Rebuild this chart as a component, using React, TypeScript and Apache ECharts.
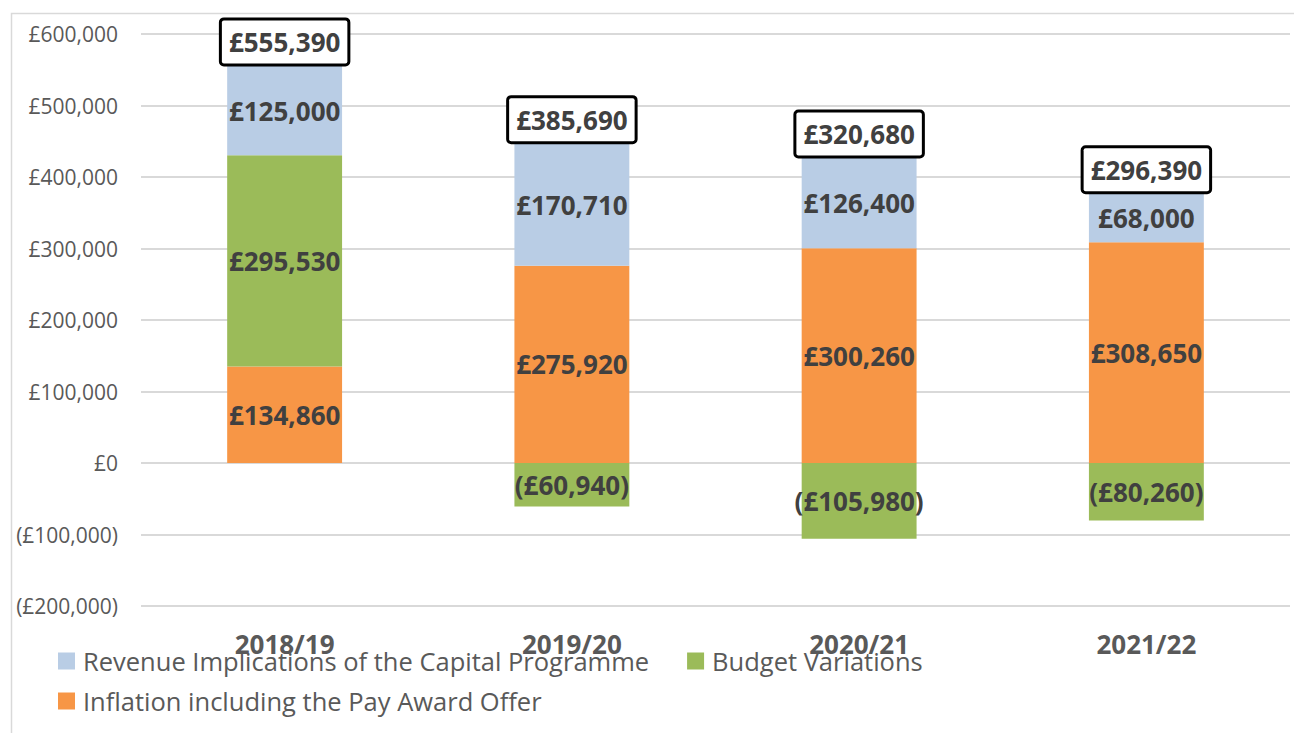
import React, { useEffect, useRef } from "react";
import * as echarts from "echarts";

const categories = ["2018/19", "2019/20", "2020/21", "2021/22"];
const inflation = [134860, 275920, 300260, 308650];
const budgetVariations = [295530, -60940, -105980, -80260];
const revenueCapital = [125000, 170710, 126400, 68000];

const seriesNames = {
  revenue: "Revenue Implications of the Capital Programme",
  budget: "Budget Variations",
  inflation: "Inflation including the Pay Award Offer",
};

const yMin = -200000;
const yMax = 600000;
const yStep = 100000;

const FONT = "'Open Sans', 'Noto Sans', sans-serif";

function money(v: number): string {
  const s = "£" + Math.abs(v).toLocaleString("en-GB");
  return v < 0 ? "(" + s + ")" : s;
}

const allSeries = [inflation, budgetVariations, revenueCapital];
const positiveTops = categories.map((_, i) =>
  allSeries.reduce((s, a) => s + Math.max(0, a[i]), 0)
);
const totals = categories.map((_, i) => allSeries.reduce((s, a) => s + a[i], 0));

export default function App() {
  const ref = useRef<HTMLDivElement>(null);
  useEffect(() => {
    if (!ref.current) return;
    const chart = echarts.init(ref.current, undefined, { renderer: "svg" });
    const barLabel = {
      show: true,
      position: "inside" as const,
      fontFamily: FONT,
      fontSize: 26,
      fontWeight: "bold" as const,
      color: "#404040",
      formatter: (p: any) => money(p.value),
    };
    const legendText = {
      fontFamily: FONT,
      fontSize: 25.5,
      color: "#595959",
      padding: [0, 0, 0, 3],
    };
    chart.setOption({
      animation: false,
      backgroundColor: "#ffffff",
      textStyle: { fontFamily: FONT },
      graphic: [
        {
          type: "rect",
          left: 9,
          top: 11,
          shape: { x: 0, y: 0, width: 2000, height: 2000 },
          style: { fill: "none", stroke: "#d9d9d9", lineWidth: 1.5 },
          silent: true,
          z: -10,
        },
      ],
      grid: { left: 141, right: 4, top: 34, bottom: 127, containLabel: false },
      legend: [
        {
          data: [seriesNames.revenue, seriesNames.budget],
          left: 58,
          top: 648,
          padding: 0,
          orient: "horizontal",
          itemWidth: 17,
          itemHeight: 17,
          itemGap: 38,
          icon: "rect",
          textStyle: legendText,
        },
        {
          data: [seriesNames.inflation],
          left: 58,
          top: 688,
          padding: 0,
          orient: "horizontal",
          itemWidth: 17,
          itemHeight: 17,
          icon: "rect",
          textStyle: legendText,
        },
      ],
      xAxis: {
        type: "category",
        data: categories,
        axisLine: { show: false, onZero: false },
        axisTick: { show: false },
        axisLabel: {
          fontFamily: FONT,
          fontSize: 26,
          fontWeight: "bold",
          color: "#595959",
          margin: 25,
        },
      },
      yAxis: {
        type: "value",
        min: yMin,
        max: yMax,
        interval: yStep,
        axisLine: { show: false },
        axisTick: { show: false },
        splitLine: { lineStyle: { color: "#d9d9d9", width: 2 } },
        axisLabel: {
          fontFamily: FONT,
          fontSize: 21,
          color: "#595959",
          margin: 23,
          formatter: (v: number) => money(v),
        },
      },
      series: [
        {
          name: seriesNames.inflation,
          type: "bar",
          stack: "total",
          data: inflation,
          barWidth: "40%",
          itemStyle: { color: "#F79646" },
          label: barLabel,
        },
        {
          name: seriesNames.budget,
          type: "bar",
          stack: "total",
          data: budgetVariations,
          itemStyle: { color: "#9BBB59" },
          label: barLabel,
        },
        {
          name: seriesNames.revenue,
          type: "bar",
          stack: "total",
          data: revenueCapital,
          itemStyle: { color: "#B9CDE5" },
          label: barLabel,
        },
        {
          name: "Total",
          type: "scatter",
          data: positiveTops,
          symbolSize: 1,
          itemStyle: { color: "rgba(0,0,0,0)", opacity: 1 },
          silent: true,
          z: 10,
          label: {
            show: true,
            position: "top",
            distance: 2,
            fontFamily: FONT,
            fontSize: 26,
            fontWeight: "bold",
            color: "#404040",
            backgroundColor: "#ffffff",
            borderColor: "#000000",
            borderWidth: 3,
            borderRadius: 2,
            padding: [7, 7, 6, 7],
            lineHeight: 30,
            formatter: (p: any) => money(totals[p.dataIndex]),
          },
        },
      ],
    });
    return () => chart.dispose();
  }, []);
  return (
    <div
      ref={ref}
      style={{ position: "fixed", left: 0, top: 0, width: 1294, height: 733 }}
    />
  );
}
